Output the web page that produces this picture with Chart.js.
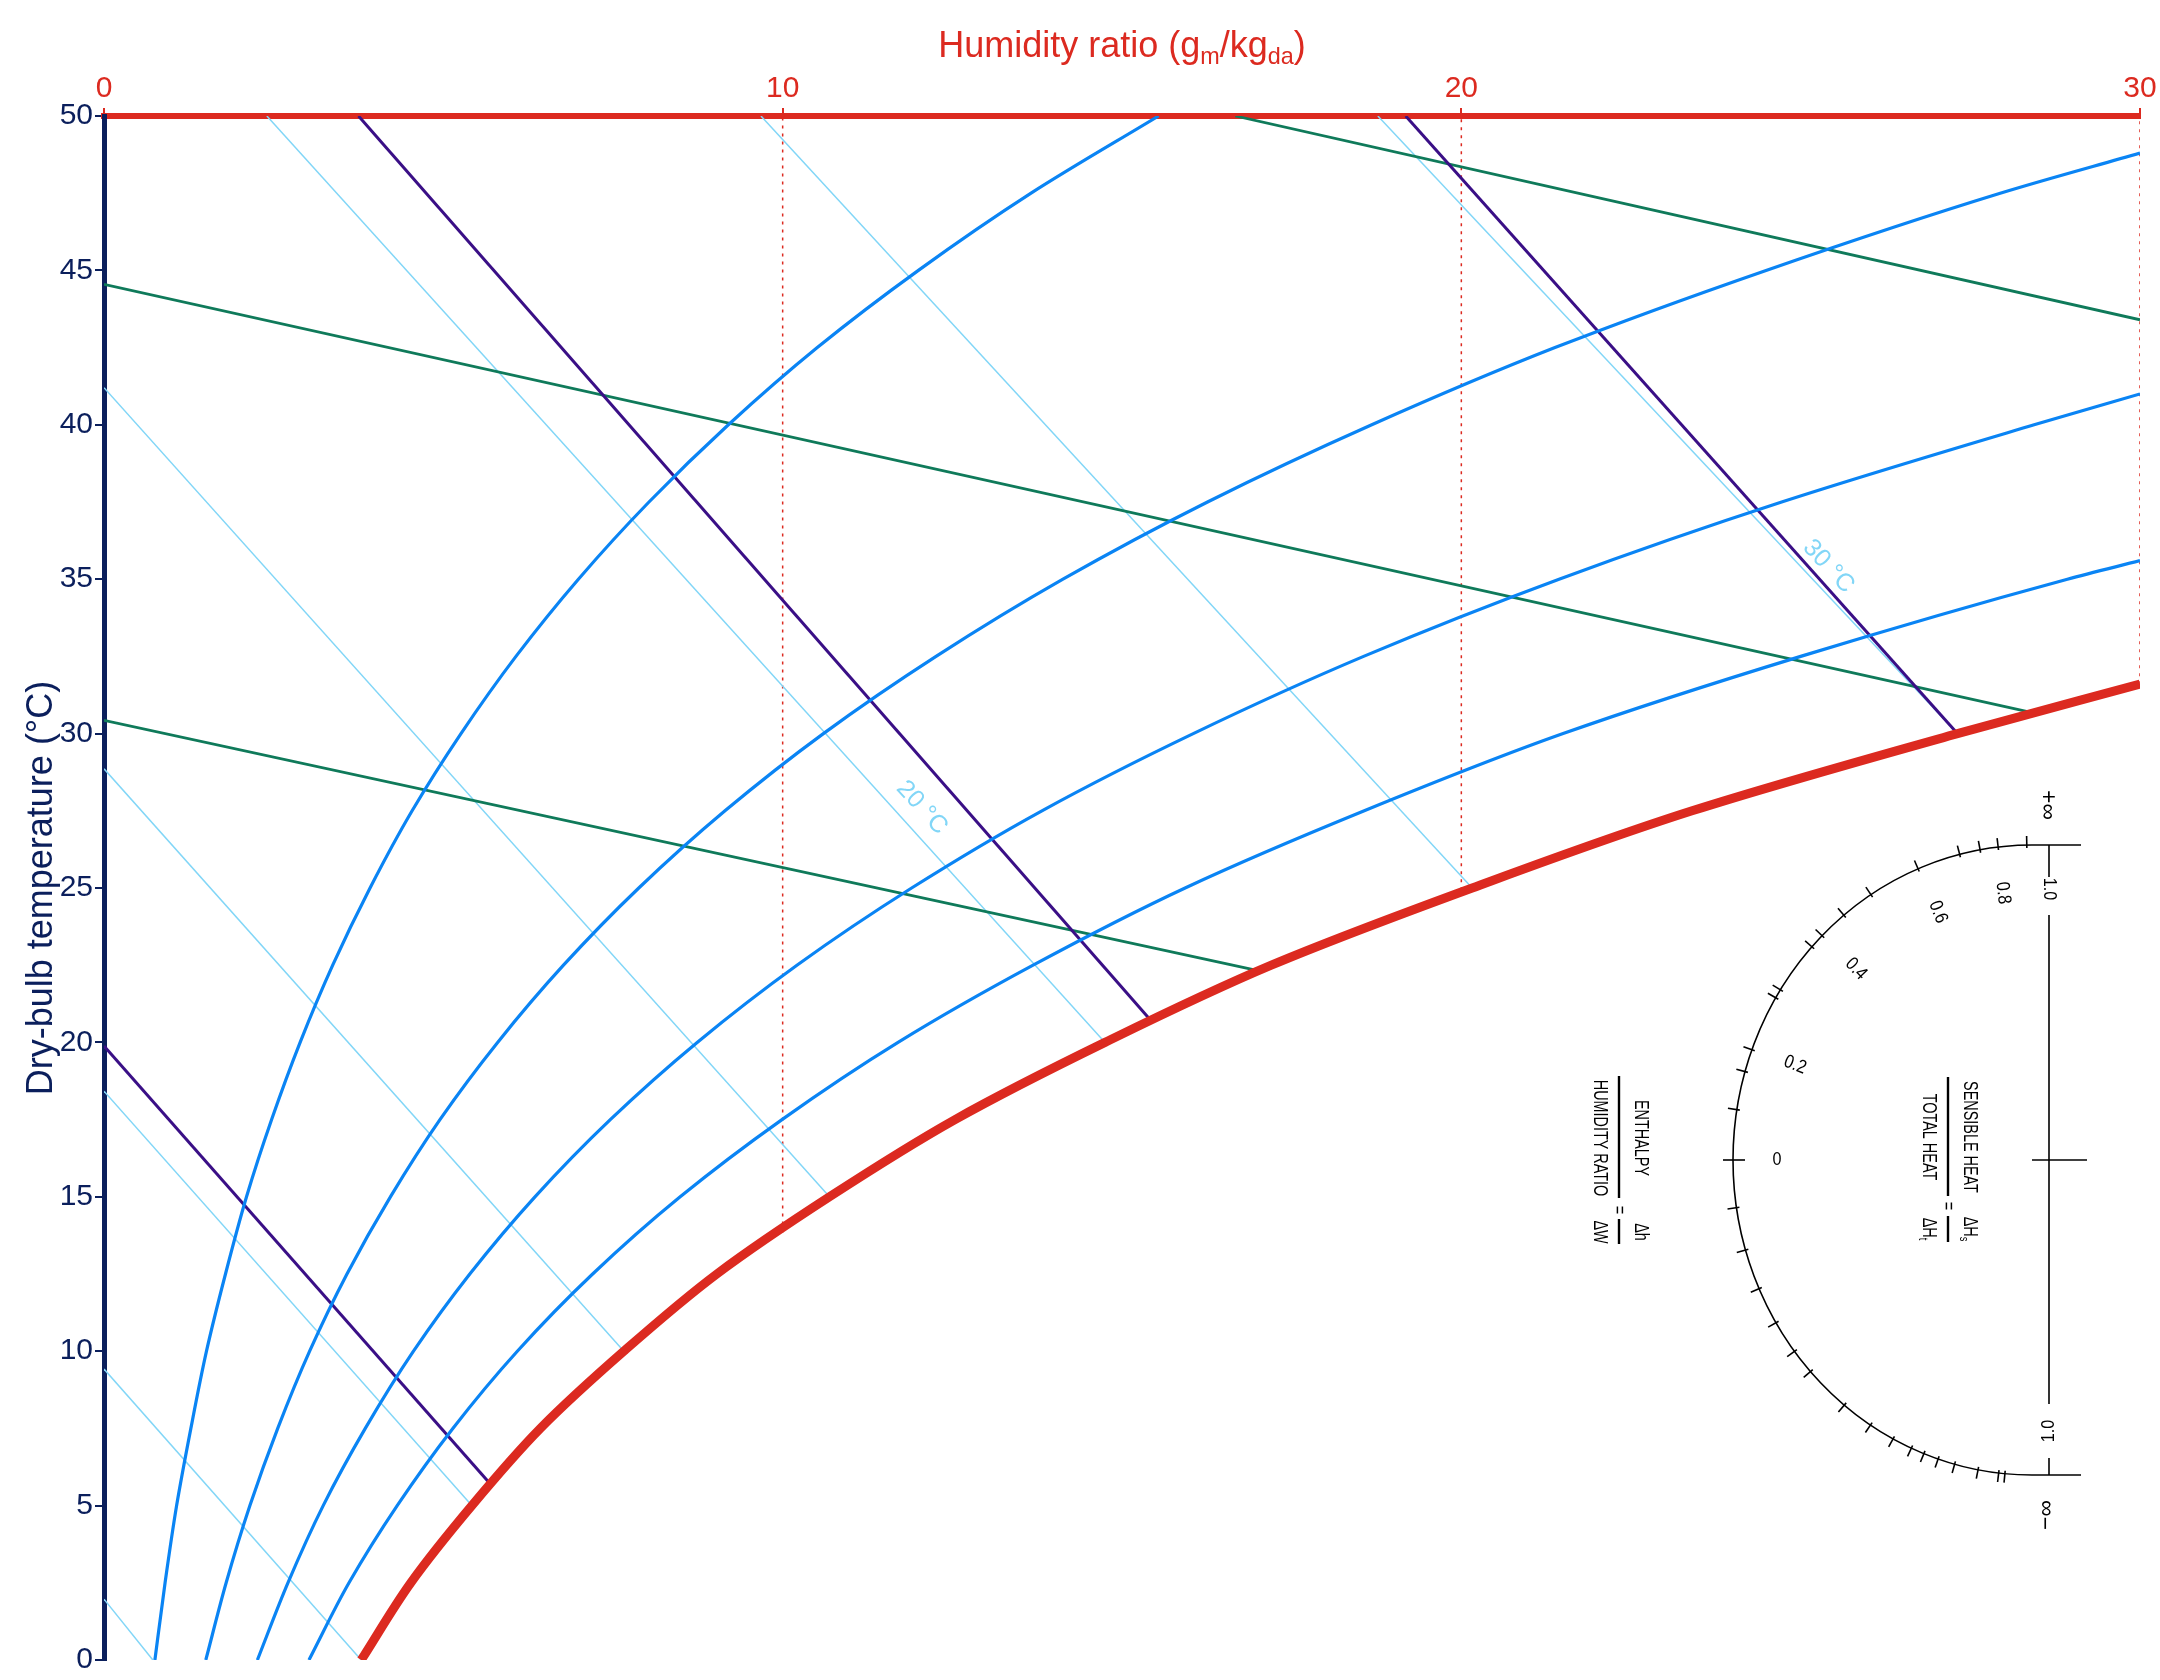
<!DOCTYPE html>
<html>
<head>
<meta charset="utf-8">
<title>Psychrometric chart</title>
<script src="https://cdn.jsdelivr.net/npm/chart.js@4.4.1/dist/chart.umd.min.js"></script>
<style>
  html, body { margin: 0; padding: 0; background: #fff; }
  canvas { display: block; }
</style>
</head>
<body>
<canvas id="chart" width="2160" height="1680"></canvas>
<script>
// axes: humidity ratio (g/kg) across the top, dry-bulb temperature (°C) up the side
const wMin = 0, wMax = 30, wStep = 10;
const tMin = 0, tMax = 50, tStep = 5;

// saturation curve (100 % RH)
const satT = [0, 2.5, 5, 7.5, 10, 12.5, 15, 17.5, 20, 22.5, 25, 27.5, 30, 31.6];
const satW = [3.79, 4.52, 5.42, 6.43, 7.66, 9.03, 10.69, 12.54, 14.75, 17.20, 20.16, 23.40, 27.31, 30.0];

// relative humidity curves 20 / 40 / 60 / 80 %
const rh20T = [0, 2.5, 5, 7.5, 10, 12.5, 15, 17.5, 20, 22.5, 25, 27.5, 30, 32.5, 35, 37.5, 40, 42.5, 45, 47.5, 50];
const rh20W = [0.75, 0.90, 1.07, 1.28, 1.51, 1.79, 2.10, 2.47, 2.89, 3.37, 3.92, 4.54, 5.26, 6.07, 6.99, 8.03, 9.20, 10.51, 12.00, 13.66, 15.54];
const rh40T = [0, 2.5, 5, 7.5, 10, 12.5, 15, 17.5, 20, 22.5, 25, 27.5, 30, 32.5, 35, 37.5, 40, 42.5, 45, 47.5, 48.8];
const rh40W = [1.50, 1.80, 2.15, 2.56, 3.03, 3.58, 4.22, 4.95, 5.80, 6.77, 7.88, 9.15, 10.60, 12.26, 14.13, 16.26, 18.68, 21.38, 24.49, 27.94, 30.0];
const rh60T = [0, 2.5, 5, 7.5, 10, 12.5, 15, 17.5, 20, 22.5, 25, 27.5, 30, 32.5, 35, 37.5, 40, 41.0];
const rh60W = [2.26, 2.71, 3.23, 3.85, 4.56, 5.39, 6.35, 7.46, 8.74, 10.21, 11.90, 13.82, 16.05, 18.56, 21.44, 24.72, 28.44, 30.0];
const rh80T = [0, 2.5, 5, 7.5, 10, 12.5, 15, 17.5, 20, 22.5, 25, 27.5, 30, 32.5, 35, 35.6];
const rh80W = [3.02, 3.61, 4.32, 5.14, 6.09, 7.20, 8.49, 9.99, 11.70, 13.69, 15.93, 18.57, 21.50, 25.00, 28.93, 30.0];

// wet-bulb lines (-5 ... 30 °C), start and end points
const wbStartW = [0, 0, 0, 0, 0, 2.40, 9.68, 18.77];
const wbStartT = [1.97, 9.42, 18.42, 28.86, 41.2, 50, 50, 50];
const wbEndW = [0.72, 3.79, 5.42, 7.66, 10.69, 14.75, 20.16, 27.31];
const wbEndT = [0, 0, 5, 10, 15, 20, 25, 30];
const wbLabels = ["20 °C", "30 °C"];
const wbLabelLine = [5, 7];
const wbLabelW = [12.05, 25.41];
const wbLabelT = [27.6, 35.41];

// enthalpy lines (20, 60, 100 kJ/kg)
const enthStartW = [0, 3.75, 19.18];
const enthStartT = [19.88, 50, 50];
const enthEndW = [5.68, 15.41, 27.31];
const enthEndT = [5.73, 20.75, 30.0];

// specific volume lines (0.86, 0.90, 0.94 m3/kg)
const volStartW = [0, 0, 16.67];
const volStartT = [30.43, 44.55, 50];
const volEndW = [17.02, 28.36, 30];
const volEndT = [22.32, 30.7, 43.4];

// dotted constant humidity ratio lines, from saturation up to the top
const gridW = [10, 20, 30];
const gridBottomT = [13.84, 24.93, 31.6];

// protractor tick angles (degrees from the 1.0 end), upper and lower half
const shrTicks = [1, 6.5, 10, 14, 22.4, 32.6, 39, 44.6, 47.4, 57.3, 59, 69.5, 73.7, 80.8];
const dhdwTicks = [5.2, 6.4, 10.4, 15, 18.3, 21.2, 23.8, 27.7, 32.7, 38.9, 47.8, 52.6, 58.9, 65.9, 73.4, 81.3];
const shrLabels = ["0", "0.2", "0.4", "0.6", "0.8"];

const FONT = "'Liberation Sans', Arial, Helvetica, sans-serif";
const RED = "#dc2a20";
const NAVY = "#0b1f5c";
const BLUE = "#0a84f4";
const CYAN = "#82d6f7";
const PURPLE = "#3a0f86";
const GREEN = "#0f7a5a";

const pts = (ws, ts) => ws.map((w, i) => ({ x: w, y: ts[i] }));

const datasets = [];

gridW.forEach((w, i) => {
  datasets.push({
    data: [{ x: w, y: gridBottomT[i] }, { x: w, y: tMax }],
    borderColor: RED, borderWidth: 1.5, borderDash: [3, 5], order: 9,
  });
});

wbStartW.forEach((w, i) => {
  datasets.push({
    data: [{ x: wbEndW[i], y: wbEndT[i] }, { x: w, y: wbStartT[i] }],
    borderColor: CYAN, borderWidth: 1.5, order: 8,
  });
});

volStartW.forEach((w, i) => {
  datasets.push({
    data: [{ x: volEndW[i], y: volEndT[i] }, { x: w, y: volStartT[i] }],
    borderColor: GREEN, borderWidth: 2.8, order: 7,
  });
});

enthStartW.forEach((w, i) => {
  datasets.push({
    data: [{ x: enthEndW[i], y: enthEndT[i] }, { x: w, y: enthStartT[i] }],
    borderColor: PURPLE, borderWidth: 3, order: 6,
  });
});

// curves are smoothed along the temperature axis (indexAxis "y")
[[rh20W, rh20T], [rh40W, rh40T], [rh60W, rh60T], [rh80W, rh80T]].forEach(([ws, ts]) => {
  datasets.push({
    data: pts(ws, ts), borderColor: BLUE, borderWidth: 3.2,
    cubicInterpolationMode: "monotone", order: 5,
  });
});

datasets.push({
  data: pts(satW, satT), borderColor: RED, borderWidth: 9,
  cubicInterpolationMode: "monotone", order: 1,
});

// text made of runs, some of them subscripts
function textRuns(ctx, runs, px, py, o) {
  const size = o.size;
  ctx.save();
  ctx.translate(px, py);
  ctx.rotate((o.rot || 0) * Math.PI / 180);
  ctx.scale(o.sx || 1, 1);
  ctx.fillStyle = o.color || "#000";
  ctx.textBaseline = o.baseline || "middle";
  ctx.textAlign = "left";
  const widths = runs.map(r => {
    ctx.font = `${r.sub ? size * 0.65 : size}px ${FONT}`;
    return ctx.measureText(r.t).width;
  });
  let cur = -widths.reduce((a, b) => a + b, 0) / 2;
  runs.forEach((r, i) => {
    ctx.font = `${r.sub ? size * 0.65 : size}px ${FONT}`;
    ctx.fillText(r.t, cur, r.sub ? size * (o.subDrop || 0.3) : 0);
    cur += widths[i];
  });
  ctx.restore();
}

function line(ctx, x1, y1, x2, y2) {
  ctx.beginPath();
  ctx.moveTo(x1, y1);
  ctx.lineTo(x2, y2);
  ctx.stroke();
}

const overlay = {
  id: "overlay",
  afterDatasetsDraw(chart) {
    const { ctx, chartArea } = chart;
    const x = chart.scales.x, y = chart.scales.y;

    // wet-bulb labels, turned along their line
    ctx.save();
    ctx.font = `25px ${FONT}`;
    ctx.fillStyle = CYAN;
    ctx.textAlign = "center";
    ctx.textBaseline = "middle";
    wbLabels.forEach((txt, i) => {
      const k = wbLabelLine[i];
      const ang = Math.atan2(
        y.getPixelForValue(wbEndT[k]) - y.getPixelForValue(wbStartT[k]),
        x.getPixelForValue(wbEndW[k]) - x.getPixelForValue(wbStartW[k]));
      ctx.save();
      ctx.translate(x.getPixelForValue(wbLabelW[i]), y.getPixelForValue(wbLabelT[i]));
      ctx.rotate(ang);
      ctx.fillText(txt, 0, 0);
      ctx.restore();
    });
    ctx.restore();

    // protractor
    const cx = chartArea.right - 108, cy = chartArea.bottom - 500;
    const rx = 299, ry = 315;
    ctx.save();
    ctx.strokeStyle = "#000";
    ctx.lineWidth = 1.6;
    ctx.beginPath();
    ctx.ellipse(cx, cy, rx, ry, 0, Math.PI / 2, Math.PI * 1.5);
    ctx.stroke();
    line(ctx, cx, cy - ry, cx + 49, cy - ry);
    line(ctx, cx, cy + ry, cx + 49, cy + ry);
    line(ctx, cx, cy, cx + 55, cy);
    line(ctx, cx - rx - 10, cy, cx - rx + 12, cy);
    const vx = cx + 17;
    line(ctx, vx, cy - ry, vx, cy - 283);
    line(ctx, vx, cy - 245, vx, cy + 244);
    line(ctx, vx, cy + 298, vx, cy + ry);

    const tick = (deg, lower) => {
      const p = deg * Math.PI / 180;
      const px = cx - rx * Math.sin(p);
      const py = lower ? cy + ry * Math.cos(p) : cy - ry * Math.cos(p);
      let nx = (px - cx) / (rx * rx), ny = (py - cy) / (ry * ry);
      const n = Math.hypot(nx, ny);
      nx /= n; ny /= n;
      line(ctx, px - nx * 3, py - ny * 3, px + nx * 9, py + ny * 9);
    };
    shrTicks.forEach(d => tick(d, false));
    dhdwTicks.forEach(d => tick(d, true));

    // scale labels
    const labelPos = [[-255, 0, 0], [-237, -95, 21], [-176, -191, 46], [-94, -248, 69], [-29, -267, 84]];
    shrLabels.forEach((t, i) => {
      const [dx, dy, r] = labelPos[i];
      textRuns(ctx, [{ t }], cx + dx, cy + dy, { size: 19, rot: r, sx: 0.85 });
    });
    textRuns(ctx, [{ t: "1.0" }], vx, cy - 271, { size: 19, rot: 90, sx: 0.85 });
    textRuns(ctx, [{ t: "1.0" }], vx, cy + 271, { size: 19, rot: -90, sx: 0.85 });
    textRuns(ctx, [{ t: "+∞" }], vx - 2, cy - 355, { size: 23, rot: 90 });
    textRuns(ctx, [{ t: "−∞" }], vx - 2, cy + 355, { size: 23, rot: -90 });

    // SENSIBLE HEAT / TOTAL HEAT = ΔHs / ΔHt
    const tOpt = { size: 20, rot: 90, sx: 0.72 };
    textRuns(ctx, [{ t: "SENSIBLE HEAT" }], cx - 62, cy - 23, tOpt);
    textRuns(ctx, [{ t: "TOTAL HEAT" }], cx - 103, cy - 23, tOpt);
    textRuns(ctx, [{ t: "=" }], cx - 84, cy + 46, tOpt);
    textRuns(ctx, [{ t: "ΔH" }, { t: "s", sub: true }], cx - 62, cy + 69, tOpt);
    textRuns(ctx, [{ t: "ΔH" }, { t: "t", sub: true }], cx - 103, cy + 69, tOpt);
    ctx.lineWidth = 2.4;
    line(ctx, cx - 84, cy - 83, cx - 84, cy + 36);
    line(ctx, cx - 84, cy + 56, cx - 84, cy + 82);

    // ENTHALPY / HUMIDITY RATIO = Δh / ΔW
    textRuns(ctx, [{ t: "ENTHALPY" }], cx - 391, cy - 22, tOpt);
    textRuns(ctx, [{ t: "HUMIDITY RATIO" }], cx - 432, cy - 22, tOpt);
    textRuns(ctx, [{ t: "=" }], cx - 413, cy + 50, tOpt);
    textRuns(ctx, [{ t: "Δh" }], cx - 391, cy + 72, tOpt);
    textRuns(ctx, [{ t: "ΔW" }], cx - 432, cy + 72, tOpt);
    line(ctx, cx - 413, cy - 84, cx - 413, cy + 38);
    line(ctx, cx - 413, cy + 59, cx - 413, cy + 84);
    ctx.restore();
  },

  afterDraw(chart) {
    const { ctx, chartArea } = chart;
    const mid = (chartArea.left + chartArea.right) / 2;
    textRuns(ctx, [
      { t: "Humidity ratio (g" }, { t: "m", sub: true }, { t: "/kg" }, { t: "da", sub: true }, { t: ")" },
    ], mid, 57, { size: 36, color: RED, baseline: "alphabetic", subDrop: 0.2 });
    textRuns(ctx, [{ t: "Dry-bulb temperature (°C)" }], 52, (chartArea.top + chartArea.bottom) / 2,
      { size: 36, color: NAVY, baseline: "alphabetic", rot: -90 });
  },
};

new Chart(document.getElementById("chart"), {
  type: "line",
  data: { datasets },
  plugins: [overlay],
  options: {
    indexAxis: "y",
    responsive: false,
    devicePixelRatio: 1,
    animation: false,
    events: [],
    layout: { padding: { left: 0, top: 0, right: 20, bottom: 19 } },
    elements: { point: { radius: 0 }, line: { borderCapStyle: "butt" } },
    plugins: { legend: { display: false }, tooltip: { enabled: false } },
    scales: {
      x: {
        type: "linear",
        position: "top",
        min: wMin, max: wMax,
        ticks: { stepSize: wStep, color: RED, font: { family: FONT, size: 30 }, padding: 1 },
        grid: { drawOnChartArea: false, drawTicks: true, tickLength: 8, color: RED, lineWidth: 2 },
        border: { display: true, color: RED, width: 6 },
        afterFit(scale) { scale.height = 116; },
      },
      y: {
        type: "linear",
        position: "left",
        min: tMin, max: tMax,
        ticks: { stepSize: tStep, color: NAVY, font: { family: FONT, size: 30 }, padding: 2 },
        grid: { drawOnChartArea: false, drawTicks: true, tickLength: 9, color: NAVY, lineWidth: 2 },
        border: { display: true, color: NAVY, width: 5 },
        afterFit(scale) { scale.width = 104; },
      },
    },
  },
});
</script>
</body>
</html>
